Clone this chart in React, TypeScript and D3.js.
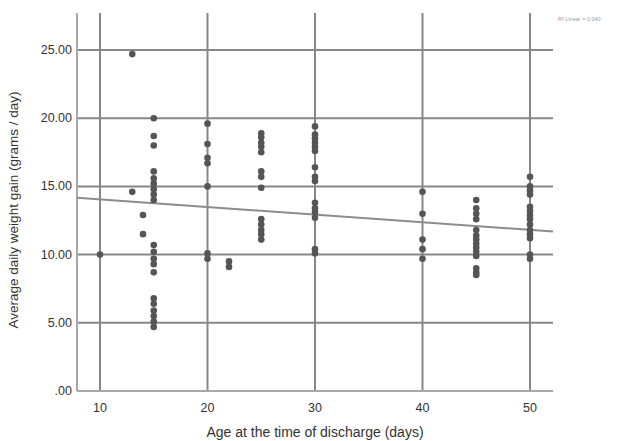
import React from "react";
import * as d3 from "d3";

// age at discharge (days) -> observed average daily weight gain
const ages = [10, 13, 13, 14, 14, 15, 20, 22, 25, 30, 40, 45, 50];
const gains: number[][] = [
  [10.0],
  [24.7],
  [14.6],
  [12.9],
  [11.5],
  [20.0, 18.7, 18.0, 16.1, 15.6, 15.2, 14.8, 14.4, 14.0, 10.7, 10.2, 9.7, 9.3, 8.7, 6.8, 6.4, 5.9, 5.5, 5.1, 4.7],
  [19.6, 18.1, 17.1, 16.7, 15.0, 10.1, 9.7],
  [9.5, 9.1],
  [18.9, 18.6, 18.2, 17.9, 17.5, 16.1, 15.7, 14.9, 12.6, 12.2, 11.8, 11.5, 11.1],
  [19.4, 18.8, 18.5, 18.2, 17.9, 17.6, 16.4, 15.7, 15.4, 13.8, 13.4, 13.1, 12.7, 10.4, 10.1],
  [14.6, 13.0, 11.1, 10.4, 9.7],
  [14.0, 13.4, 13.0, 12.6, 11.8, 11.4, 11.1, 10.8, 10.5, 10.2, 9.9, 9.0, 8.7, 8.5],
  [15.7, 15.0, 14.7, 14.4, 13.5, 13.2, 12.9, 12.6, 12.2, 11.8, 11.5, 11.2, 10.0, 9.7],
];

const xTicks = [10, 20, 30, 40, 50];
const yTicks = [0, 5, 10, 15, 20, 25];

// fitted linear regression
const fitIntercept = 14.61;
const fitSlope = -0.056;
const fitLabel = "R² Linear = 0.040";

const points = ages.flatMap((age, i) => gains[i].map((g) => ({ age, g })));

const App = () => {
  const width = 631;
  const height = 441;
  const left = 77;
  const right = 553;
  const top = 13;
  const bottom = 391;

  const xScale = d3.scaleLinear().domain([7.86, 52.14]).range([left, right]);
  const yScale = d3.scaleLinear().domain([0, 25]).range([bottom, 50]);

  const [x0, x1] = xScale.domain();
  const fitLine = d3
    .line<number>()
    .x((d) => xScale(d))
    .y((d) => yScale(fitIntercept + fitSlope * d));

  const grid = "#878787";
  const font = "'Liberation Sans', Arial, sans-serif";

  return (
    <svg
      width={width}
      height={height}
      style={{ position: "absolute", left: 0, top: 0, background: "#fff" }}
      fontFamily={font}
    >
      {yTicks
        .filter((t) => t > 0)
        .map((t) => (
          <line key={t} x1={left} x2={right} y1={yScale(t)} y2={yScale(t)} stroke={grid} strokeWidth={2} />
        ))}
      {xTicks.map((t) => (
        <line key={t} x1={xScale(t)} x2={xScale(t)} y1={top} y2={bottom} stroke={grid} strokeWidth={2} />
      ))}
      <line x1={left} x2={left} y1={top} y2={bottom} stroke="#a8a8a8" strokeWidth={2} />
      <line x1={left} x2={right} y1={bottom} y2={bottom} stroke="#a8a8a8" strokeWidth={2} />

      {yTicks.map((t) => (
        <text key={t} x={left - 5} y={yScale(t) + 4} textAnchor="end" fontSize={12.5} fill="#333">
          {t === 0 ? ".00" : t.toFixed(2)}
        </text>
      ))}
      {xTicks.map((t) => (
        <text key={t} x={xScale(t)} y={bottom + 21} textAnchor="middle" fontSize={12.5} fill="#333">
          {t}
        </text>
      ))}

      <path d={fitLine([x0, x1]) || ""} fill="none" stroke="#8c8c8c" strokeWidth={2} />

      {points.map((p, i) => (
        <circle key={i} cx={xScale(p.age)} cy={yScale(p.g)} r={3.3} fill="#555" />
      ))}

      <text x={315} y={437} textAnchor="middle" fontSize={14} fill="#333">
        Age at the time of discharge (days)
      </text>
      <text
        transform={`translate(18,${(top + bottom) / 2 + 8}) rotate(-90)`}
        textAnchor="middle"
        fontSize={13.5}
        fill="#333"
      >
        Average daily weight gain (grams / day)
      </text>
      <text x={558} y={21} fontSize={5.5} fill="#999">
        {fitLabel}
      </text>
    </svg>
  );
};

export default App;
